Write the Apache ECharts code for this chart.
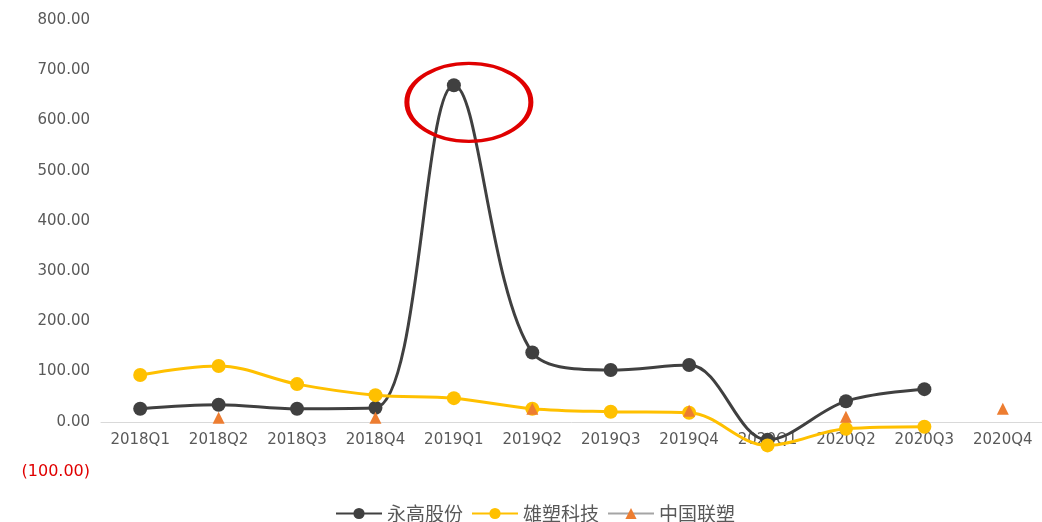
<!DOCTYPE html>
<html><head><meta charset="utf-8">
<script src="https://cdn.jsdelivr.net/npm/echarts@6/dist/echarts.min.js"></script>
<style>html,body{margin:0;padding:0;background:#fff}#c{width:1042px;height:522px}</style>
</head><body><div id="c"></div>
<script>
const categories = ['2018Q1','2018Q2','2018Q3','2018Q4','2019Q1','2019Q2','2019Q3','2019Q4','2020Q1','2020Q2','2020Q3','2020Q4'];
const yonggao = [26, 34, 26, 28, 670, 138, 103, 113, -36, 41, 65, null];
const xiongsu = [93, 111, 75, 53, 47, 26, 20, 18, -47, -14, -10, null];
const liansu = [null, 8, null, 8, null, 26, null, 22, null, 10, null, 26];
const seriesNames = ['永高股份', '雄塑科技', '中国联塑'];
const yTicks = {min: -100, max: 800, interval: 100};

const chart = echarts.init(document.getElementById('c'));
const fontFam = '"Microsoft YaHei","Noto Sans CJK SC","Liberation Sans",Arial,sans-serif';
const numFont = '"DejaVu Sans",Verdana,sans-serif';
chart.setOption({
  animation: false,
  grid: {left: 101, right: 0, top: 20, bottom: 50},
  legend: {
    top: 504, left: 335, padding: 0, itemWidth: 46, itemHeight: 14, itemGap: 8,
    textStyle: {color: '#595959', fontSize: 19, fontFamily: fontFam},
    data: seriesNames
  },
  xAxis: {
    type: 'category', data: categories, boundaryGap: true,
    position: 'bottom', offset: -50,
    axisLine: {onZero: false, lineStyle: {color: '#D9D9D9', width: 1}},
    axisTick: {show: false},
    axisLabel: {color: '#595959', fontSize: 15, margin: 11, fontFamily: numFont, interval: 0}
  },
  yAxis: {
    type: 'value', min: yTicks.min, max: yTicks.max, interval: yTicks.interval,
    splitLine: {show: false}, axisLine: {show: false}, axisTick: {show: false},
    axisLabel: {
      fontSize: 15, margin: 11, fontFamily: numFont, color: '#595959',
      formatter: v => v < 0 ? '{neg|(' + Math.abs(v).toFixed(2) + ')}' : v.toFixed(2),
      rich: {neg: {color: '#E00000', fontSize: 16, fontFamily: numFont}}
    }
  },
  series: [
    {
      name: seriesNames[0], type: 'line', data: yonggao, smooth: 0.35,
      symbol: 'circle', symbolSize: 14,
      lineStyle: {color: '#404040', width: 3},
      itemStyle: {color: '#404040'},
      markPoint: {
        symbol: 'circle', symbolSize: [124, 78], symbolOffset: [15, 17],
        itemStyle: {color: 'rgba(0,0,0,0)', borderColor: '#E00000', borderWidth: 4},
        label: {show: false},
        data: [{coord: [4, yonggao[4]]}]
      }
    },
    {
      name: seriesNames[1], type: 'line', data: xiongsu, smooth: 0.35,
      symbol: 'circle', symbolSize: 14,
      lineStyle: {color: '#FFC000', width: 3},
      itemStyle: {color: '#FFC000'}
    },
    {
      name: seriesNames[2], type: 'line', data: liansu, connectNulls: false,
      symbol: 'triangle', symbolSize: 12,
      lineStyle: {color: '#A5A5A5', width: 3},
      itemStyle: {color: '#ED7D31'}
    }
  ]
});
</script></body></html>
